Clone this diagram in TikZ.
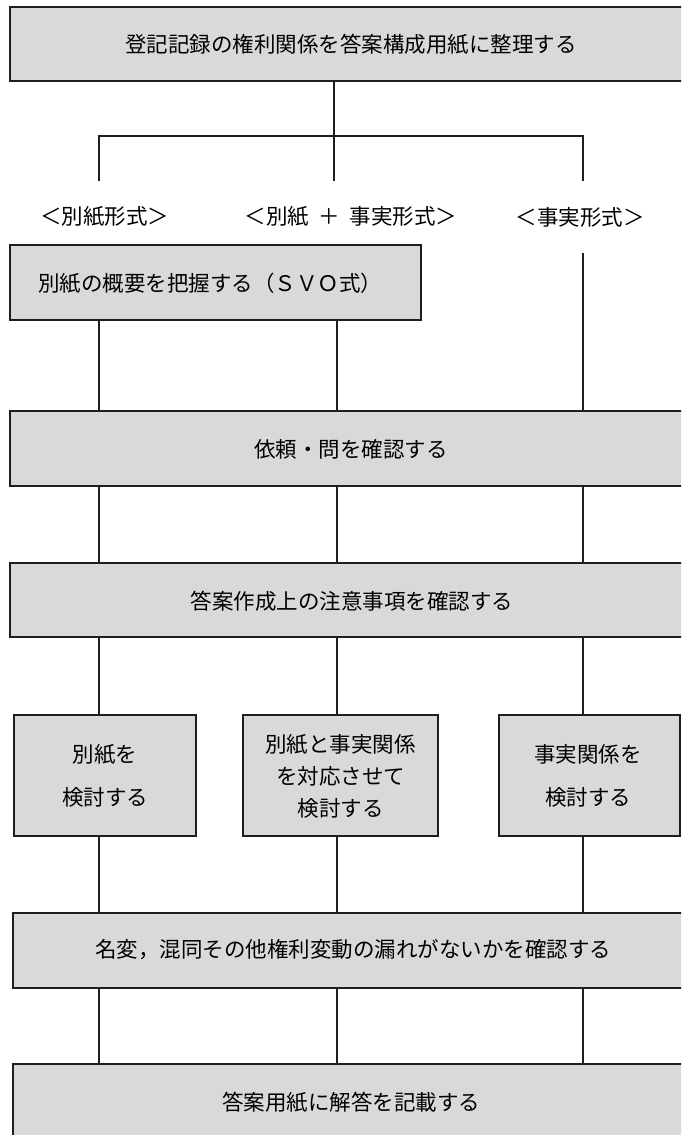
\documentclass[tikz,border=0pt]{standalone}
\usepackage{fontspec}
\setmainfont{Noto Sans CJK JP}
\definecolor{boxgray}{RGB}{217,217,217}
\definecolor{edge}{RGB}{30,30,30}
\begin{document}
\begin{tikzpicture}[x=1pt,y=-1pt,
  box/.style={draw=edge, line width=1.3pt, fill=boxgray, inner sep=0pt, rectangle},
  txt/.style={font=\fontsize{21.5}{25}\selectfont, inner sep=0pt, align=center, text=black},
  txttwo/.style={font=\fontsize{21.5}{43}\selectfont, inner sep=0pt, align=center, text=black},
  txtthree/.style={font=\fontsize{21.5}{32}\selectfont, inner sep=0pt, align=center, text=black},
  conn/.style={line width=1.7pt, draw=edge}]
\useasboundingbox (0,0) rectangle (681,1135);
\clip (0,0) rectangle (681,1135);
\fill[white] (0,0) rectangle (681,1135);

% boxes
\node[box, minimum width=690pt, minimum height=74pt] (T)  at (355,44) {};
\node[box, minimum width=411pt, minimum height=75pt] (B2) at (215.5,282.5) {};
\node[box, minimum width=690pt, minimum height=75pt] (B3) at (355,448.5) {};
\node[box, minimum width=690pt, minimum height=74pt] (B4) at (355,600) {};
\node[box, minimum width=182pt, minimum height=121pt] (S1) at (105,775.5) {};
\node[box, minimum width=195pt, minimum height=121pt] (S2) at (340.5,775.5) {};
\node[box, minimum width=181pt, minimum height=121pt] (S3) at (589.5,775.5) {};
\node[box, minimum width=687pt, minimum height=75pt] (B6) at (356.5,950.5) {};
\node[box, minimum width=687pt, minimum height=86pt] (B7) at (356.5,1107) {};

% texts
\node[txt] (Tt)  at (351,44) {登記記録の権利関係を答案構成用紙に整理する};
\node[txt] (L1)  at (104.5,217) {＜別紙形式＞};
\node[txt] (L2)  at (351,217) {＜別紙\hspace{0.45em}＋\hspace{0.45em}事実形式＞};
\node[txt] (L3)  at (580,217) {＜事実形式＞};
\node[txt] (B2t) at (210,283) {別紙の概要を把握する（ＳＶＯ式）};
\node[txt] (B3t) at (351,449) {依頼・問を確認する};
\node[txt] (B4t) at (352,601) {答案作成上の注意事項を確認する};
\node[txttwo] (S1t) at (105,775.5) {別紙を\\検討する};
\node[txtthree] (S2t) at (340.5,776) {別紙と事実関係\\を対応させて\\検討する};
\node[txttwo] (S3t) at (588,775.5) {事実関係を\\検討する};
\node[txt] (B6t) at (353,950) {名変，混同その他権利変動の漏れがないかを確認する};
\node[txt] (B7t) at (351,1102) {答案用紙に解答を記載する};

% column coordinates
\coordinate (c1) at (99,0);
\coordinate (c2) at (337,0);
\coordinate (c3) at (583,0);
\coordinate (J)  at (334,136);
\coordinate (JL) at (99,136);
\coordinate (JR) at (583,136);
\coordinate (EL) at (99,181);
\coordinate (EM) at (334,181);
\coordinate (ER) at (583,181);
\coordinate (RS) at (583,253);

% connectors
\draw[conn] (T.south -| J) -- (J);
\draw[conn] (EL) -- (JL) -- (JR) -- (ER);
\draw[conn] (J) -- (EM);

\draw[conn] (B2.south -| c1) -- (B3.north -| c1);
\draw[conn] (B2.south -| c2) -- (B3.north -| c2);
\draw[conn] (RS) -- (B3.north -| RS);

\foreach \c in {c1,c2,c3} {
  \draw[conn] (B3.south -| \c) -- (B4.north -| \c);
  \draw[conn] (B6.south -| \c) -- (B7.north -| \c);
}
\draw[conn] (B4.south -| c1) -- (S1.north -| c1);
\draw[conn] (B4.south -| c2) -- (S2.north -| c2);
\draw[conn] (B4.south -| c3) -- (S3.north -| c3);
\draw[conn] (S1.south -| c1) -- (B6.north -| c1);
\draw[conn] (S2.south -| c2) -- (B6.north -| c2);
\draw[conn] (S3.south -| c3) -- (B6.north -| c3);
\end{tikzpicture}
\end{document}
